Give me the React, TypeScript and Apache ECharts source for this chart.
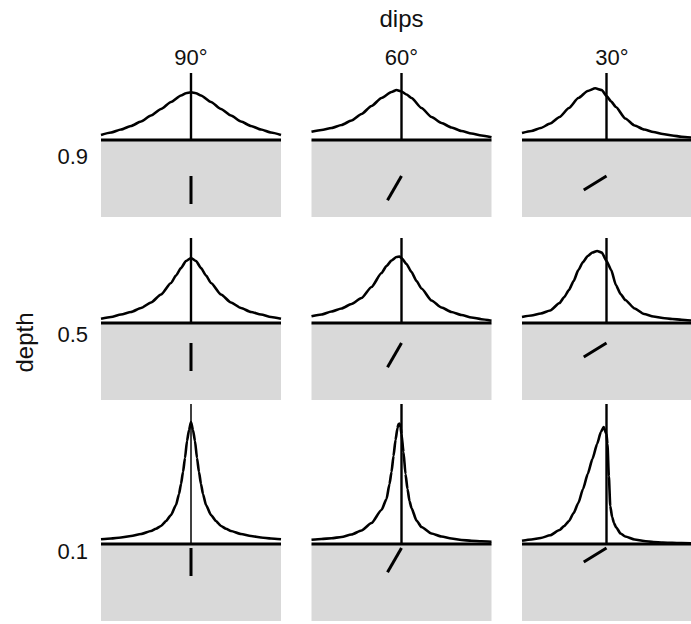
import React, { useEffect, useRef } from "react";
import * as echarts from "echarts";

// facets
const dips = [90, 60, 30];
const depths = [0.9, 0.5, 0.1];
const dipLabels = ["90°", "60°", "30°"];
const depthLabels = ["0.9", "0.5", "0.1"];
const dikeLength = 0.7;

// anomaly profiles (offset in depth units, anomaly in arbitrary units)
const x_09_90 = [-2.25, -2, -1.75, -1.5, -1.25, -1, -0.75, -0.5, -0.25, -0.125, 0, 0.125, 0.25, 0.5, 0.75, 1, 1.25, 1.5, 1.75, 2, 2.25];
const y_09_90 = [5, 7.5, 10.5, 14, 18.5, 24.5, 31, 38, 44.5, 46.8, 47.7, 46.8, 44.5, 38, 31, 24.5, 18.5, 14, 10.5, 7.5, 5];

const x_09_60 = [-2.25, -2, -1.75, -1.5, -1.25, -1, -0.75, -0.5, -0.25, -0.125, 0, 0.125, 0.25, 0.5, 0.75, 1, 1.25, 1.5, 1.75, 2, 2.25];
const y_09_60 = [8.3, 10, 12, 15, 19.5, 26, 34, 42, 48, 50, 48.5, 45.5, 42, 32, 23, 17, 12.5, 9, 6.5, 4.5, 2.7];

const x_09_30 = [-2.25, -2, -1.75, -1.5, -1.25, -1, -0.75, -0.5, -0.3, -0.125, 0, 0.125, 0.25, 0.5, 0.75, 1, 1.25, 1.5, 1.75, 2, 2.25];
const y_09_30 = [7, 9, 12, 16.5, 23, 32, 42, 49, 51.7, 50, 44, 38.5, 33, 21.5, 14.5, 10.5, 8, 6, 4.5, 3.3, 2.5];

const x_05_90 = [-2.25, -2, -1.75, -1.5, -1.25, -1, -0.75, -0.5, -0.375, -0.25, -0.125, 0, 0.125, 0.25, 0.375, 0.5, 0.75, 1, 1.25, 1.5, 1.75, 2, 2.25];
const y_05_90 = [4.3, 6, 8.5, 11, 15, 20.5, 28.5, 40, 47.5, 55, 62, 65, 62, 55, 47.5, 40, 28.5, 20.5, 15, 11, 8.5, 6, 4.3];

const x_05_60 = [-2.25, -2, -1.75, -1.5, -1.25, -1, -0.75, -0.5, -0.375, -0.25, -0.125, -0.05, 0, 0.125, 0.25, 0.375, 0.5, 0.75, 1, 1.25, 1.5, 1.75, 2, 2.25];
const y_05_60 = [6.7, 8.5, 11.5, 14.5, 19, 25, 36, 50, 57, 62.5, 66, 66.5, 65, 59, 51, 42, 34.5, 22.5, 15.5, 11, 8, 5.5, 3.8, 2.3];

const x_05_30 = [-2.25, -2, -1.75, -1.5, -1.25, -1.125, -1, -0.875, -0.75, -0.625, -0.5, -0.375, -0.25, -0.125, 0, 0.125, 0.25, 0.375, 0.5, 0.75, 1, 1.25, 1.5, 1.75, 2, 2.25];
const y_05_30 = [6, 7.5, 9.5, 12.5, 20, 26, 33, 42, 53, 61, 67, 70.5, 72, 70.5, 62, 53, 38, 29, 23, 14.5, 9, 6.5, 5, 4, 3.2, 2.5];

const x_01_90 = [-2.25, -2, -1.75, -1.5, -1.25, -1, -0.875, -0.75, -0.625, -0.5, -0.375, -0.3, -0.25, -0.2, -0.15, -0.1, -0.05, 0, 0.05, 0.1, 0.15, 0.2, 0.25, 0.3, 0.375, 0.5, 0.625, 0.75, 0.875, 1, 1.25, 1.5, 1.75, 2, 2.25];
const y_01_90 = [4.7, 5.5, 6.5, 8, 10, 13, 15.3, 18, 23, 29, 39, 50, 60, 72, 86, 103, 114, 122, 114, 103, 86, 72, 60, 50, 39, 29, 23, 18, 15.3, 13, 10, 8, 6.5, 5.5, 4.7];

const x_01_60 = [-2.25, -2, -1.75, -1.5, -1.25, -1, -0.75, -0.5, -0.375, -0.3, -0.25, -0.2, -0.15, -0.1, -0.075, -0.05, -0.025, 0, 0.05, 0.1, 0.15, 0.2, 0.25, 0.375, 0.5, 0.75, 1, 1.25, 1.5, 1.75, 2, 2.25];
const y_01_60 = [4.3, 5, 5.7, 7, 9.5, 13.5, 21, 34, 45, 60, 72, 88, 104, 116, 120, 120.5, 117, 110, 92, 70, 55, 43, 36, 23.5, 17, 10.5, 7.5, 5.5, 4, 3.2, 2.7, 2.3];

const x_01_30 = [-2.25, -2, -1.75, -1.5, -1.25, -1.125, -1, -0.875, -0.75, -0.625, -0.5, -0.375, -0.25, -0.15, -0.075, 0, 0.025, 0.0625, 0.1, 0.15, 0.2, 0.25, 0.375, 0.5, 0.75, 1, 1.25, 1.5, 1.75, 2, 2.25];
const y_01_30 = [3.2, 4.5, 6, 8.7, 14, 18, 23, 31, 41, 55, 70, 85, 100, 112, 117, 110, 100, 68, 38, 27, 21, 17, 10.5, 7.5, 4.5, 3, 2, 1.4, 1.1, 0.9, 0.7];

const profileX = [
  [x_09_90, x_09_60, x_09_30],
  [x_05_90, x_05_60, x_05_30],
  [x_01_90, x_01_60, x_01_30],
];
const profileY = [
  [y_09_90, y_09_60, y_09_30],
  [y_05_90, y_05_60, y_05_30],
  [y_01_90, y_01_60, y_01_30],
];

// layout (pixels)
const PX_PER_UNIT = 40;
const X_HALF = 2.25;
const GROUND = 77; // px below surface
const colLeft = [101, 311.5, 522];
const panelW = 180;
const rowTop = [73, 238, 404];
const rowAbove = [67, 85, 140];
const rowLabelY = [156.7, 334, 551];
const colCenter = colLeft.map((l) => l + panelW / 2);
const FONT = "'Liberation Sans', Arial, Helvetica, sans-serif";

export default function App() {
  const ref = useRef<HTMLDivElement>(null);
  useEffect(() => {
    if (!ref.current) return;
    const chart = echarts.init(ref.current, undefined, { renderer: "svg" });
    const grid: any[] = [];
    const xAxis: any[] = [];
    const yAxis: any[] = [];
    const series: any[] = [];
    let gi = 0;
    for (let r = 0; r < 3; r++) {
      for (let c = 0; c < 3; c++) {
        grid.push({ left: colLeft[c], top: rowTop[r], width: panelW, height: rowAbove[r] + GROUND });
        xAxis.push({ gridIndex: gi, type: "value", min: -X_HALF, max: X_HALF, show: false });
        // anomaly axis (px-like units)
        yAxis.push({ gridIndex: gi, type: "value", min: -GROUND, max: rowAbove[r], show: false });
        // depth axis (same pixel mapping, depth units)
        yAxis.push({ gridIndex: gi, type: "value", min: -GROUND / PX_PER_UNIT, max: rowAbove[r] / PX_PER_UNIT, show: false });
        const ya = gi * 2;
        const yd = gi * 2 + 1;
        // ground + surface line
        series.push({
          type: "line", xAxisIndex: gi, yAxisIndex: yd, symbol: "none", silent: true, z: 1,
          data: [[-X_HALF, 0], [X_HALF, 0]],
          lineStyle: { color: "#000", width: 3 },
          areaStyle: { color: "#d9d9d9", opacity: 1, origin: "start" },
        });
        // anomaly curve
        const xs = profileX[r][c];
        const ys = profileY[r][c];
        series.push({
          type: "line", xAxisIndex: gi, yAxisIndex: ya, symbol: "none", silent: true, z: 2,
          smooth: 0.2, smoothMonotone: "x",
          data: xs.map((x, i) => [x, ys[i]]),
          lineStyle: { color: "#000", width: 2.6 },
        });
        // vertical reference line
        series.push({
          type: "line", xAxisIndex: gi, yAxisIndex: ya, symbol: "none", silent: true, z: 3,
          data: [[0, 0], [0, rowAbove[r]]],
          lineStyle: { color: "#000", width: r === 2 && c === 0 ? 1.5 : 2.4 },
        });
        // dike
        const d = depths[r];
        const a = (dips[c] * Math.PI) / 180;
        series.push({
          type: "line", xAxisIndex: gi, yAxisIndex: yd, symbol: "none", silent: true, z: 3,
          data: [[0, -d], [-dikeLength * Math.cos(a), -d - dikeLength * Math.sin(a)]],
          lineStyle: { color: "#000", width: 3 },
        });
        gi++;
      }
    }
    const textStyle = (text: string, size: number, align: string) => ({
      text, fill: "#111", font: `${size}px ${FONT}`,
      textAlign: align, align, textVerticalAlign: "middle", verticalAlign: "middle",
    });
    const graphic: any[] = [
      { type: "text", x: colCenter[1], y: 18, style: textStyle("dips", 24, "center") },
      { type: "text", x: 24.5, y: 342.5, rotation: Math.PI / 2, style: textStyle("depth", 24, "center") },
    ];
    dipLabels.forEach((t, c) => graphic.push({ type: "text", x: colCenter[c], y: 57, style: textStyle(t, 22, "center") }));
    depthLabels.forEach((t, r) => graphic.push({ type: "text", x: 88, y: rowLabelY[r], style: textStyle(t, 22, "right") }));

    chart.setOption({ animation: false, grid, xAxis, yAxis, series, graphic });
    return () => chart.dispose();
  }, []);
  return <div ref={ref} style={{ position: "fixed", left: 0, top: 0, width: 691, height: 624, background: "#fff" }} />;
}
